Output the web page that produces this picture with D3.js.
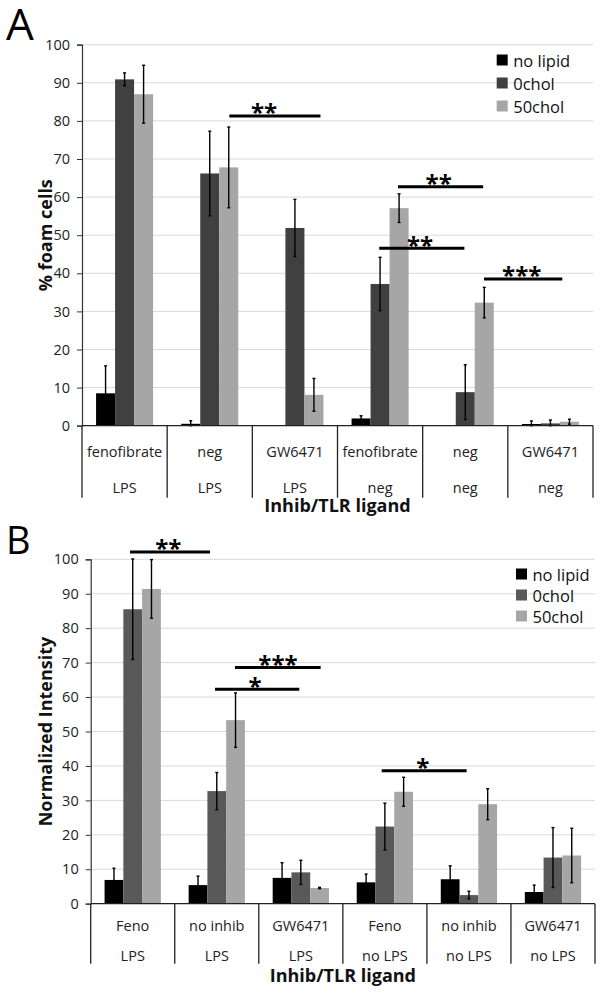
<!DOCTYPE html>
<html><head><meta charset="utf-8">
<script src="https://cdn.jsdelivr.net/npm/d3@7"></script>
<style>
body{margin:0;background:#fff;}
svg{display:block;}
text{font-family:"Open Sans",sans-serif;}
</style></head>
<body>
<svg id="chart" width="604" height="993"></svg>
<script>
// ---------- DATA ----------
const seriesNames = ["no lipid", "0chol", "50chol"];
const yTicks = [0, 10, 20, 30, 40, 50, 60, 70, 80, 90, 100];

// Panel A
const catsA_inhib = ["fenofibrate", "neg", "GW6471", "fenofibrate", "neg", "GW6471"];
const catsA_tlr = ["LPS", "LPS", "LPS", "neg", "neg", "neg"];
const A_noLipid = [8.5, 0.5, 0, 1.9, 0, 0.45];
const A_noLipidErr = [7.2, 0.8, null, 0.7, null, 0.8];
const A_0chol = [90.9, 66.2, 51.9, 37.2, 8.8, 0.6];
const A_0cholErr = [1.7, 11.1, 7.5, 7.0, 7.2, 0.9];
const A_50chol = [87.0, 67.8, 8.1, 57.1, 32.3, 1.05];
const A_50cholErr = [7.6, 10.6, 4.3, 3.75, 4.0, 0.65];
// significance annotations: [x1, x2 (category index units), y value, star x, label]
const A_sig = [
  [1.73, 2.80, 81.3, 2.137, "**"],
  [3.71, 4.71, 62.7, 4.188, "**"],
  [3.49, 4.49, 46.6, 3.969, "**"],
  [4.72, 5.64, 38.5, 5.163, "***"]
];

// Panel B
const catsB_inhib = ["Feno", "no inhib", "GW6471", "Feno", "no inhib", "GW6471"];
const catsB_tlr = ["LPS", "LPS", "LPS", "no LPS", "no LPS", "no LPS"];
const B_noLipid = [6.9, 5.4, 7.5, 6.2, 7.1, 3.4];
const B_noLipidErr = [3.4, 2.6, 4.4, 2.4, 3.9, 2.0];
const B_0chol = [85.5, 32.7, 9.1, 22.4, 2.5, 13.4];
const B_0cholErr = [14.6, 5.4, 3.5, 6.8, 1.1, 8.7];
const B_50chol = [91.4, 53.3, 4.56, 32.5, 28.9, 14.0];
const B_50cholErr = [8.5, 7.9, 0.2, 4.2, 4.5, 7.9];
const B_sig = [
  [0.468, 1.419, 102.1, 0.923, "**"],
  [1.717, 2.736, 68.6, 2.228, "***"],
  [1.479, 2.482, 62.3, 1.955, "*"],
  [3.462, 4.473, 38.6, 3.95, "*"]
];

// ---------- DRAW ----------
const svg = d3.select("#chart");

function drawPanel(o) {
  const g = svg.append("g");
  const cats = o.inhib.map((d, i) => i);
  const x0 = d3.scaleBand().domain(cats).range([o.left, o.right]).paddingInner(0).paddingOuter(0);
  const x1 = d3.scaleBand().domain(seriesNames).range([0, x0.bandwidth()]).paddingInner(0).paddingOuter(0.74);
  const xi = d3.scaleLinear().domain([0, cats.length]).range([o.left, o.right]);
  const y = d3.scaleLinear().domain([0, 100]).range([o.bottom, o.top]);

  // gridlines
  g.append("g").selectAll("line").data(yTicks.filter(t => t > 0)).join("line")
    .attr("x1", o.left).attr("x2", o.right)
    .attr("y1", d => y(d)).attr("y2", d => y(d))
    .attr("stroke", "#d9d9d9").attr("stroke-width", 1);

  // y axis
  const ya = g.append("g").attr("transform", `translate(${o.left},0)`)
    .call(d3.axisLeft(y).tickValues(yTicks).tickSize(5).tickPadding(7));
  ya.select(".domain").attr("stroke", "#333").attr("stroke-width", 1.2);
  ya.selectAll(".tick line").attr("stroke", "#333");
  ya.selectAll(".tick text").attr("font-family", "Open Sans").attr("font-size", 14.5).attr("fill", "#222");

  // bars
  const values = [o.v0, o.v1, o.v2];
  const errs = [o.e0, o.e1, o.e2];
  seriesNames.forEach((s, si) => {
    const recs = cats.map(i => ({ i, v: values[si][i], e: errs[si][i] }));
    g.append("g").selectAll("rect").data(recs).join("rect")
      .attr("x", d => x0(d.i) + x1(s))
      .attr("width", x1.bandwidth())
      .attr("y", d => y(d.v))
      .attr("height", d => y(0) - y(d.v))
      .attr("fill", o.colors[si]);
    const eb = g.append("g").selectAll("g").data(recs.filter(d => d.e !== null && d.v > 0)).join("g");
    const cx = d => x0(d.i) + x1(s) + x1.bandwidth() / 2;
    eb.append("line").attr("x1", cx).attr("x2", cx)
      .attr("y1", d => y(Math.max(0, d.v - d.e))).attr("y2", d => y(d.v + d.e))
      .attr("stroke", "#000").attr("stroke-width", 1.4);
    eb.append("line").attr("x1", d => cx(d) - 1.5).attr("x2", d => cx(d) + 1.5)
      .attr("y1", d => y(d.v + d.e)).attr("y2", d => y(d.v + d.e))
      .attr("stroke", "#000").attr("stroke-width", 1.4);
    eb.append("line").attr("x1", d => cx(d) - 1.5).attr("x2", d => cx(d) + 1.5)
      .attr("y1", d => y(Math.max(0, d.v - d.e))).attr("y2", d => y(Math.max(0, d.v - d.e)))
      .attr("stroke", "#000").attr("stroke-width", 1.4);
  });

  // x axis line and separators
  g.append("line").attr("x1", o.left).attr("x2", o.right).attr("y1", y(0)).attr("y2", y(0))
    .attr("stroke", "#222").attr("stroke-width", 1.3);
  g.append("g").selectAll("line").data(d3.range(cats.length + 1)).join("line")
    .attr("x1", d => xi(d)).attr("x2", d => xi(d))
    .attr("y1", y(0)).attr("y2", y(0) + o.sepLen)
    .attr("stroke", "#222").attr("stroke-width", 1.3);
  g.append("g").selectAll("text").data(cats).join("text")
    .attr("x", d => x0(d) + x0.bandwidth() / 2).attr("y", y(0) + o.row1)
    .attr("text-anchor", "middle").attr("dominant-baseline", "central")
    .attr("font-size", 14.5).attr("fill", "#222").text(d => o.inhib[d]);
  g.append("g").selectAll("text").data(cats).join("text")
    .attr("x", d => x0(d) + x0.bandwidth() / 2).attr("y", y(0) + o.row2)
    .attr("text-anchor", "middle").attr("dominant-baseline", "central")
    .attr("font-size", 14.5).attr("fill", "#222").text(d => o.tlr[d]);

  // axis titles
  g.append("text").attr("x", (o.left + o.right) / 2).attr("y", o.xTitleY)
    .attr("text-anchor", "middle").attr("dominant-baseline", "central")
    .attr("font-size", 18).attr("font-weight", "bold").attr("fill", "#111").text("Inhib/TLR ligand");
  g.append("text").attr("transform", `translate(45,${(o.top + o.bottom) / 2}) rotate(-90)`)
    .attr("text-anchor", "middle").attr("dominant-baseline", "central")
    .attr("font-size", 18).attr("font-weight", "bold").attr("fill", "#111").text(o.yTitle);

  // panel letter
  g.append("text").attr("x", 6).attr("y", o.letterY).attr("font-family", "Liberation Sans")
    .attr("font-size", o.letterSize).attr("fill", "#000").text(o.letter);

  // legend
  const lg = g.append("g").selectAll("g").data(seriesNames).join("g")
    .attr("transform", (d, i) => `translate(${o.legX},${o.legY + i * o.legStep})`);
  lg.append("rect").attr("x", 0).attr("y", -5.5).attr("width", 11).attr("height", 11)
    .attr("fill", (d, i) => o.colors[i]);
  lg.append("text").attr("x", 16.5).attr("y", 0).attr("dominant-baseline", "central")
    .attr("font-size", 16.5).attr("fill", "#111").text(d => d);

  // significance
  const sg = g.append("g").selectAll("g").data(o.sig).join("g");
  sg.append("line").attr("x1", d => xi(d[0])).attr("x2", d => xi(d[1]))
    .attr("y1", d => y(d[2])).attr("y2", d => y(d[2]))
    .attr("stroke", "#000").attr("stroke-width", 3);
  sg.append("text").attr("x", d => xi(d[3])).attr("y", d => y(d[2]) - 9 + 0.6 * 24)
    .attr("text-anchor", "middle").attr("font-size", 24).attr("font-weight", "bold")
    .attr("fill", "#000").text(d => d[4]);
}

drawPanel({
  inhib: catsA_inhib, tlr: catsA_tlr,
  v0: A_noLipid, v1: A_0chol, v2: A_50chol,
  e0: A_noLipidErr, e1: A_0cholErr, e2: A_50cholErr,
  sig: A_sig,
  colors: ["#000000", "#404040", "#a6a6a6"],
  left: 82, right: 593, top: 44.7, bottom: 425.7,
  sepLen: 72, row1: 26, row2: 62, xTitleY: 505,
  yTitle: "% foam cells", letter: "A", letterY: 40, letterSize: 44,
  legX: 496.7, legY: 60, legStep: 23
});

drawPanel({
  inhib: catsB_inhib, tlr: catsB_tlr,
  v0: B_noLipid, v1: B_0chol, v2: B_50chol,
  e0: B_noLipidErr, e1: B_0cholErr, e2: B_50cholErr,
  sig: B_sig,
  colors: ["#000000", "#595959", "#a6a6a6"],
  left: 90.7, right: 595, top: 559.3, bottom: 903.7,
  sepLen: 60, row1: 21.5, row2: 51.5, xTitleY: 975,
  yTitle: "Normalized Intensity", letter: "B", letterY: 554, letterSize: 38,
  legX: 516, legY: 574, legStep: 21
});
</script>
</body></html>
